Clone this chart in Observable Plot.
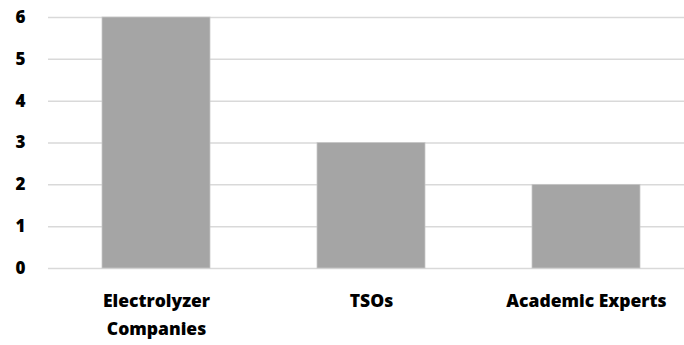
<!DOCTYPE html>
<html>
<head>
<meta charset="utf-8">
<script src="https://cdn.jsdelivr.net/npm/d3@7"></script>
<script src="https://cdn.jsdelivr.net/npm/@observablehq/plot@0.6"></script>
<style>
  html, body { margin: 0; padding: 0; background: #fff; }
  #chart svg { display: block; }
</style>
</head>
<body>
<div id="chart"></div>
<script>
const categories = ["Electrolyzer Companies", "TSOs", "Academic Experts"];
const values = [6, 3, 2];
const xTickLabels = ["Electrolyzer\nCompanies", "TSOs", "Academic Experts"];
const yTicks = [0, 1, 2, 3, 4, 5, 6];

const data = categories.map((c, i) => ({category: c, value: values[i]}));
const labelOf = new Map(categories.map((c, i) => [c, xTickLabels[i]]));

const chart = Plot.plot({
  width: 684,
  height: 345,
  marginLeft: 48,
  marginRight: -10,
  marginTop: 17,
  marginBottom: 77,
  style: {fontFamily: "'Open Sans', sans-serif", fontWeight: "800", fontSize: "17.5px", color: "#000", background: "#fff"},
  x: {domain: categories, paddingInner: 0.5, paddingOuter: 0.25, align: 0.5},
  y: {domain: [0, 6]},
  marks: [
    Plot.ruleY(yTicks, {stroke: "#d9d9d9", strokeWidth: 1.5, strokeOpacity: 1}),
    Plot.barY(data, {x: "category", y: "value", fill: "#a5a5a5", stroke: "#c8c8c8", strokeWidth: 0.75}),
    Plot.axisY(yTicks, {tickSize: 0, tickPadding: 23, tickFormat: d => String(d), fontSize: 17, fontWeight: "800", fill: "#000", label: null}),
    Plot.axisX({tickSize: 0, tickPadding: 19, tickFormat: d => labelOf.get(d), fontSize: 17.5, fontWeight: "800", fill: "#000", lineHeight: 1.6, label: null})
  ]
});
document.getElementById("chart").appendChild(chart);
</script>
</body>
</html>
